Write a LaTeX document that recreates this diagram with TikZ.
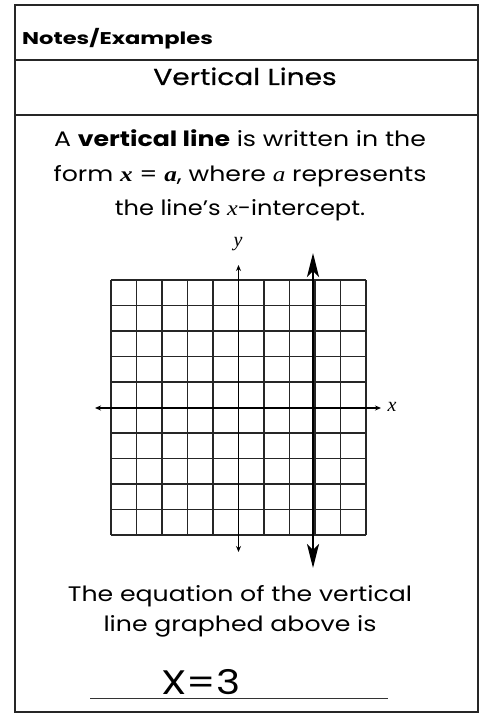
\documentclass[tikz,border=0pt]{standalone}
\usepackage{fontspec}
\setmainfont{Poppins}
\newfontfamily\serifit{Liberation Serif}
\usetikzlibrary{arrows.meta}
\newcommand{\wide}[2]{\scalebox{#1}[1]{#2}}
\tikzset{
  frameline/.style={line width=1.3pt, black!85},
  gridline/.style={line width=1.2pt, black!85},
  axisline/.style={line width=1.6pt, black, {Stealth[length=6pt,width=5pt]}-{Stealth[length=6pt,width=5pt]}},
  graphline/.style={line width=2.6pt, black, {Stealth[length=24pt,width=12pt,inset=6pt]}-{Stealth[length=24pt,width=12pt,inset=6pt]}},
  bodytext/.style={anchor=base, font=\fontsize{21}{24}\selectfont, inner sep=0pt},
}
\begin{document}
\begin{tikzpicture}[x=1pt,y=-1pt]
\useasboundingbox (0,0) rectangle (481,719);
% frame
\draw[frameline] (15,5) rectangle (478,712);
\draw[frameline] (15,60) -- (478,60);
\draw[frameline] (15,115) -- (478,115);
% headings
\node[anchor=base west, inner sep=0pt, font=\fontsize{17}{20}\selectfont\bfseries] (notes) at (22,45) {\wide{1.33}{Notes/Examples}};
\node[anchor=base, inner sep=0pt, font=\fontsize{23}{26}\selectfont\addfontfeature{FakeBold=0.6}] (title) at (245,85) {\wide{1.22}{Vertical Lines}};
% body
\node[bodytext] (l1) at (240,147) {\wide{1.2}{A \textbf{vertical line} is written in the}};
\node[bodytext] (l2) at (240,182) {\wide{1.2}{form {\serifit\bfseries\itshape x} = {\serifit\bfseries\itshape a}, where {\serifit\itshape a} represents}};
\node[bodytext] (l3) at (240,215) {\wide{1.15}{the line's {\serifit\itshape x}-intercept.}};
% grid
\foreach \i in {0,...,10} {
  \draw[gridline] (111+\i*25.5,280) -- (111+\i*25.5,535);
  \draw[gridline] (111,280+\i*25.5) -- (366,280+\i*25.5);
}
% axes
\coordinate (xl) at (95,408);
\coordinate (xr) at (381,408);
\coordinate (yt) at (238.5,265);
\coordinate (yb) at (238.5,552);
\draw[axisline] (xl) -- (xr);
\draw[axisline] (yb) -- (yt);
\node[font=\fontsize{20}{20}\selectfont\serifit\itshape, inner sep=0pt] (xlab) at (392,407) {x};
\node[font=\fontsize{20}{20}\selectfont\serifit\itshape, inner sep=0pt] (ylab) at (238,244) {y};
% graphed line x = 3
\coordinate (gt) at (313,253);
\coordinate (gb) at (313,568);
\draw[graphline] (gb) -- (gt);
% bottom text
\node[bodytext] (b1) at (240,601) {\wide{1.2}{The equation of the vertical}};
\node[bodytext] (b2) at (240,631) {\wide{1.2}{line graphed above is}};
% answer
\coordinate (ul) at (90,698);
\coordinate (ur) at (388,698);
\draw[line width=1pt, black!80] (ul) -- (ur);
\node[anchor=base, inner sep=0pt, font=\fontsize{34}{34}\selectfont] (ans) at (201,694) {\wide{1.2}{X=3}};
\end{tikzpicture}
\end{document}
